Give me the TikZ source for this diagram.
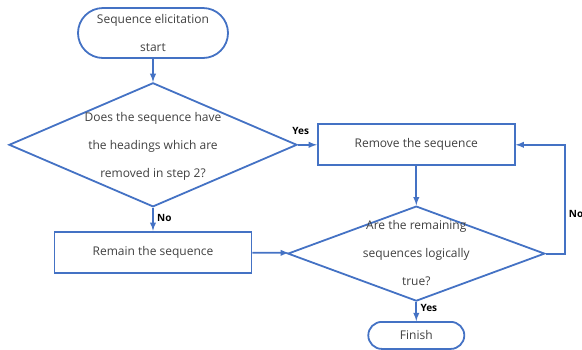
\documentclass[tikz,border=0pt]{standalone}
\usepackage{fontspec}
\setmainfont{Open Sans}
\usetikzlibrary{positioning,shapes.geometric}
\definecolor{flowblue}{RGB}{68,114,196}
\definecolor{flowtext}{RGB}{64,64,64}
\newcommand{\qlines}[1]{\raisebox{-3.5pt}{\smash{\begin{tabular}{@{}c@{}}#1\end{tabular}}}}

\begin{document}
\begin{tikzpicture}[
    x=1pt, y=1pt,
    font=\fontsize{12}{28}\selectfont,
    block/.style={
        rectangle,
        draw=flowblue,
        text=flowtext,
        minimum width=197pt,
        minimum height=41pt,
        line width=1.8pt
    },
    terminal/.style={
        rectangle,
        draw=flowblue,
        text=flowtext,
        align=center,
        line width=1.8pt
    },
    decision/.style={
        diamond,
        draw=flowblue,
        text=flowtext,
        inner sep=0pt,
        aspect=2.3,
        line width=1.8pt
    },
    line/.style={
        draw,
        -latex,
        line width=1.8pt,
        color=flowblue
    },
    answer/.style={
        font=\fontsize{10}{12}\selectfont\bfseries,
        text=black
    }
]
    \useasboundingbox (0,0) rectangle (582,-349);

    % --- Left column ---
    \node [terminal, rounded corners=25pt, minimum width=150pt, minimum height=50pt] (start) at (153,-33)
        {\qlines{Sequence elicitation\\start}};
    \node [decision, minimum width=288pt, minimum height=124pt, below=23pt of start] (headings)
        {\qlines{Does the sequence have\\the headings which are\\removed in step 2?}};
    \node [block, below=23pt of headings] (remain) {Remain the sequence};

    % --- Right column ---
    \node [block, right=19pt of headings] (remove) {Remove the sequence};
    \node [decision, minimum width=257pt, minimum height=95pt, below=39pt of remove] (logical)
        {\qlines{Are the remaining\\sequences logically\\true?}};
    \node [terminal, rounded corners=13.5pt, minimum width=96pt, minimum height=27pt, below=19pt of logical] (finish) {Finish};

    % --- Connections ---
    \path [line] (start) -- (headings);
    \path [line] (headings) -- node[answer, above=6pt, pos=0.15] {Yes} (remove);
    \path [line] (headings) -- node[answer, right, pos=0.45] {No} (remain);
    \path [line] (remove) -- (logical);
    \path [line] (remain) -- (logical);
    \path [line] (logical.east) -- ++(19,0) |- node[answer, right, pos=0.18] {No} (remove.east);
    \path [line] (logical) -- node[answer, right, pos=0.3] {Yes} (finish);

\end{tikzpicture}
\end{document}
